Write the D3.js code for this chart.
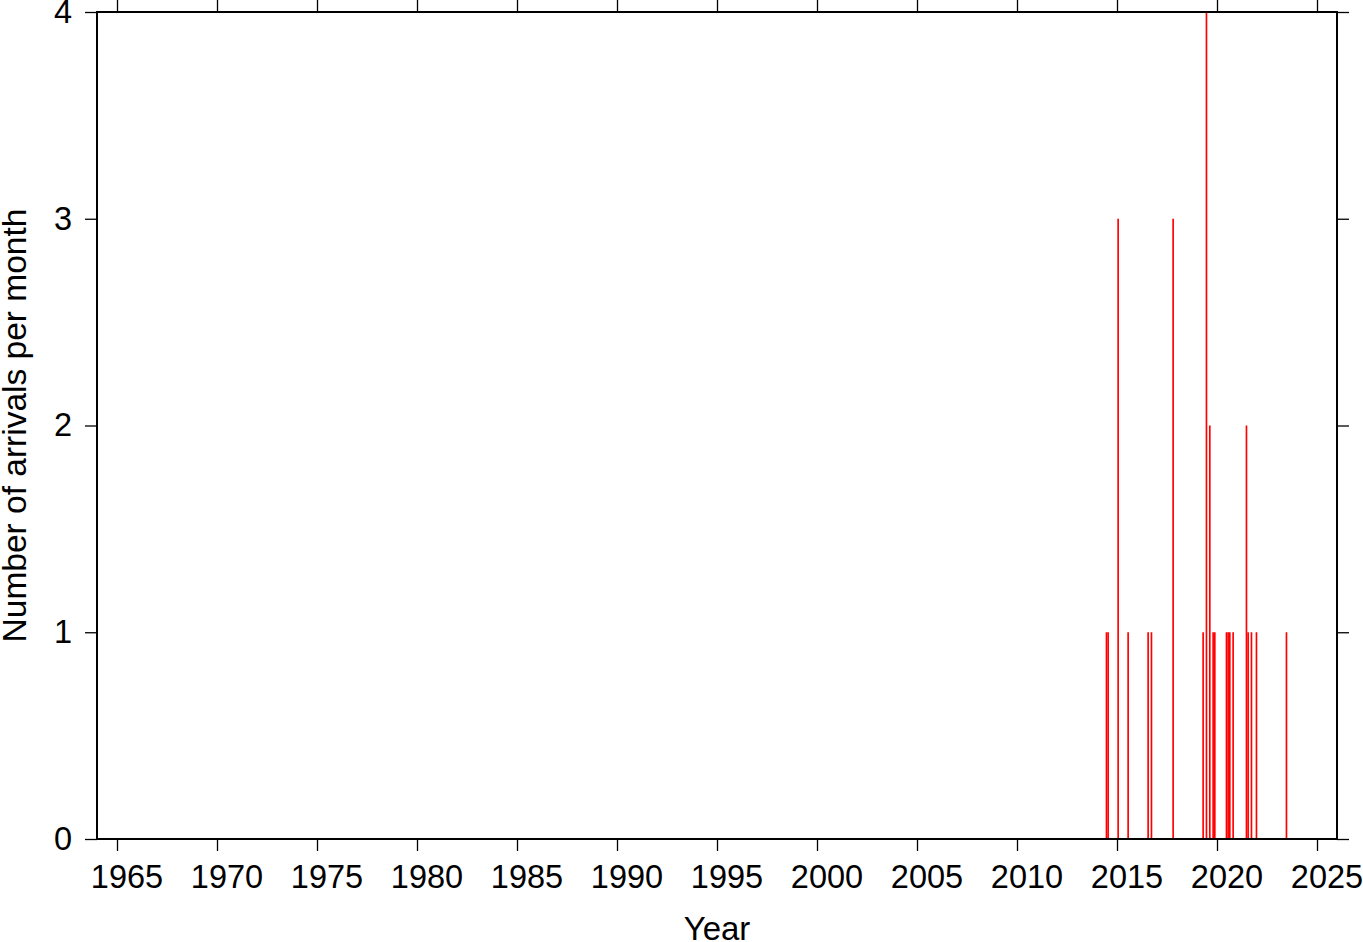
<!DOCTYPE html>
<html><head><meta charset="utf-8">
<script src="https://cdn.jsdelivr.net/npm/d3@7"></script>
<style>
html,body{margin:0;padding:0;background:#fff;}
svg text{font-family:"Liberation Sans",Arial,Helvetica,sans-serif;fill:#000;}
</style></head>
<body>
<svg id="chart" width="1363" height="942"></svg>
<script>
const months = ["2014-06","2014-07","2015-01","2015-07","2016-07","2016-09","2017-10","2019-04","2019-06","2019-08","2019-10","2019-11","2020-06","2020-07","2020-08","2020-10","2021-06","2021-07","2021-09","2021-12","2023-06"];
const counts = [1,1,3,1,1,1,3,1,4,2,1,1,1,1,1,1,2,1,1,1,1];
const xTicks = [1965,1970,1975,1980,1985,1990,1995,2000,2005,2010,2015,2020,2025];
const yTicks = [0,1,2,3,4];
const xLabel = "Year";
const yLabel = "Number of arrivals per month";

const L = 97, R = 1337, T = 12, B = 839;
const svg = d3.select("#chart");
const x = d3.scaleLinear().domain([1964, 2026]).range([L, R]);
const y = d3.scaleLinear().domain([0, 4]).range([B, T]);

const data = months.map((m, i) => {
  const [yr, mo] = m.split("-").map(Number);
  return {start: yr + (mo - 1) / 12, end: yr + mo / 12, v: counts[i]};
});

svg.append("g").selectAll("rect").data(data).enter().append("rect")
  .attr("x", d => x(d.start) + 0.3)
  .attr("width", d => Math.max(1.6, x(d.end) - x(d.start)))
  .attr("y", d => y(d.v))
  .attr("height", d => y(0) - y(d.v))
  .attr("fill", "#ff0000");

const fs = 32.5;
const gb = svg.append("g").attr("transform", `translate(0,${B})`)
  .call(d3.axisBottom(x).tickValues(xTicks).tickFormat(d3.format("d")).tickSize(12).tickPadding(14));
const gt = svg.append("g").attr("transform", `translate(0,${T})`)
  .call(d3.axisTop(x).tickValues(xTicks).tickFormat("").tickSize(12));
const gl = svg.append("g").attr("transform", `translate(${L},0)`)
  .call(d3.axisLeft(y).tickValues(yTicks).tickFormat(d3.format("d")).tickSize(12).tickPadding(13));
const gr = svg.append("g").attr("transform", `translate(${R},0)`)
  .call(d3.axisRight(y).tickValues(yTicks).tickFormat("").tickSize(12));

[gb, gt, gl, gr].forEach(g => {
  g.select(".domain").remove();
  g.selectAll(".tick line").attr("stroke", "#000").attr("stroke-width", 1.3);
  g.selectAll("text").style("font-size", fs + "px").attr("fill", "#000");
});
gb.selectAll(".tick text").attr("dx", 9.5);

svg.append("rect").attr("x", L).attr("y", T).attr("width", R - L).attr("height", B - T)
  .attr("fill", "none").attr("stroke", "#000").attr("stroke-width", 2);

svg.append("text").attr("x", (L + R) / 2).attr("y", 940).attr("text-anchor", "middle")
  .style("font-size", "33px").text(xLabel);
svg.append("text").attr("transform", `translate(26,${(T + B) / 2}) rotate(-90)`)
  .attr("text-anchor", "middle").style("font-size", "33.5px").text(yLabel);
</script>
</body></html>
